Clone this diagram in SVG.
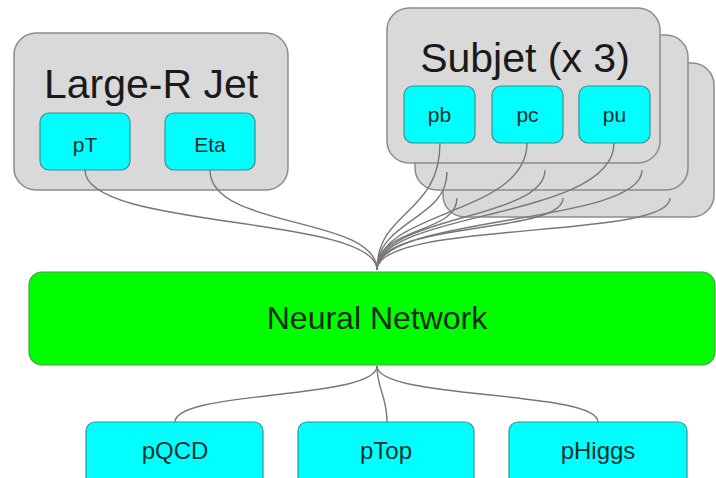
<svg xmlns="http://www.w3.org/2000/svg" width="716" height="478" viewBox="0 0 716 478">
<style>
.grp{fill:#d9d9d9;stroke:#8c8c8c;stroke-width:1.5}
.cy{fill:#00ffff;stroke:#3a8f8f;stroke-width:1.2}
.nn{fill:#00ff00;stroke:#4a9a4a;stroke-width:1.2}
.ttl{font-family:"Liberation Sans",Arial,sans-serif;font-size:41px;fill:#1a1a1a;text-anchor:middle}
.lbl{font-family:"Liberation Sans",Arial,sans-serif;font-size:21px;fill:#103030;text-anchor:middle}
.out{font-family:"Liberation Sans",Arial,sans-serif;font-size:24px;fill:#103030;text-anchor:middle}
.big{font-family:"Liberation Sans",Arial,sans-serif;font-size:32px;fill:#0f2a0f;text-anchor:middle}
.c{fill:none;stroke:#777777;stroke-width:1.4}
</style>
<rect width="716" height="478" fill="#ffffff"/>
<g id="large-r-jet">
<rect class="grp" x="14" y="33" width="274" height="157" rx="22"/>
<text class="ttl" x="151" y="98">Large-R Jet</text>
</g>
<g id="pT"><rect class="cy" x="40" y="113" width="90" height="57" rx="9"/><text class="lbl" x="85" y="152">pT</text></g>
<g id="Eta"><rect class="cy" x="165" y="113" width="90" height="57" rx="9"/><text class="lbl" x="210" y="152">Eta</text></g>
<g id="subjet-3"><rect class="grp" x="443" y="63" width="271" height="154" rx="22"/></g>
<g id="subjet-2"><rect class="grp" x="415" y="35" width="273" height="155" rx="22"/></g>
<g id="subjet-1">
<rect class="grp" x="387" y="8" width="273" height="155" rx="22"/>
<text class="ttl" x="525" y="72">Subjet (x 3)</text>
</g>
<g id="pb"><rect class="cy" x="404" y="86" width="71" height="57" rx="9"/><text class="lbl" x="439.5" y="122">pb</text></g>
<g id="pc"><rect class="cy" x="492" y="86" width="71" height="57" rx="9"/><text class="lbl" x="527.5" y="122">pc</text></g>
<g id="pu"><rect class="cy" x="579" y="86" width="71" height="57" rx="9"/><text class="lbl" x="614.5" y="122">pu</text></g>
<g id="neural-network">
<rect class="nn" x="29" y="272" width="686" height="93" rx="13"/>
<text class="big" x="377" y="329">Neural Network</text>
</g>
<g id="pQCD"><rect class="cy" x="86" y="422" width="177" height="70" rx="9"/><text class="out" x="175" y="459">pQCD</text></g>
<g id="pTop"><rect class="cy" x="298" y="422" width="176" height="70" rx="9"/><text class="out" x="386" y="459">pTop</text></g>
<g id="pHiggs"><rect class="cy" x="509" y="422" width="178" height="70" rx="9"/><text class="out" x="598" y="459">pHiggs</text></g>
<g id="connectors">
<path class="c" d="M85,170 C85,230 377,215 377,270"/>
<path class="c" d="M210,170 C210,230 377,215 377,270"/>
<path class="c" d="M440,143 C440,215 377,210 377,270"/>
<path class="c" d="M527,143 C527,215 377,210 377,270"/>
<path class="c" d="M614,143 C614,220 377,210 377,270"/>
<path class="c" d="M447,172 C447,220 377,220 377,270"/>
<path class="c" d="M545,170 C545,220 377,215 377,270"/>
<path class="c" d="M642,170 C642,225 377,215 377,270"/>
<path class="c" d="M457,198 C457,235 377,225 377,270"/>
<path class="c" d="M563,198 C563,235 377,220 377,270"/>
<path class="c" d="M670,198 C670,240 377,220 377,270"/>
<path class="c" d="M377,366 C377,400 175,390 175,422"/>
<path class="c" d="M377,366 C377,390 387,395 387,422"/>
<path class="c" d="M377,366 C377,400 598,390 598,422"/>
</g>
</svg>
